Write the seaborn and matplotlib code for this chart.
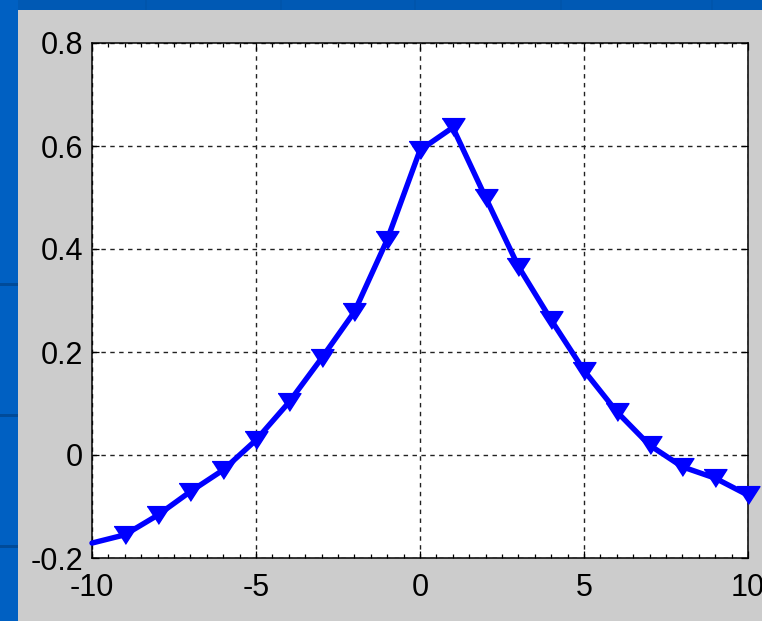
import numpy as np
import pandas as pd
import matplotlib
matplotlib.use("Agg")
import matplotlib.pyplot as plt
from matplotlib.patches import Rectangle
from matplotlib.ticker import MultipleLocator
import seaborn as sns

# ---- data ----
x_vals = [-10, -9, -8, -7, -6, -5, -4, -3, -2, -1, 0,
          1, 2, 3, 4, 5, 6, 7, 8, 9, 10]
y_vals = [-0.171, -0.155, -0.117, -0.071, -0.029, 0.029, 0.102, 0.188, 0.278, 0.418, 0.592,
          0.636, 0.500, 0.366, 0.262, 0.164, 0.084, 0.019, -0.023, -0.045, -0.078]
x_ticks = [-10, -5, 0, 5, 10]
y_ticks = [-0.2, 0, 0.2, 0.4, 0.6, 0.8]
y_tick_labels = ["-0.2", "0", "0.2", "0.4", "0.6", "0.8"]

df = pd.DataFrame({"x": x_vals, "y": y_vals})

sns.set_theme(style="white")
plt.rcParams["font.family"] = ["Liberation Sans", "DejaVu Sans"]

W, H = 762, 621
dpi = 100
fig = plt.figure(figsize=(W / dpi, H / dpi), dpi=dpi)
fig.patch.set_facecolor("#cccccc")

# slide background strips (blue) at left and top
def px_rect(x0, y0, w, h, color, z=0):
    fig.add_artist(Rectangle((x0 / W, 1 - (y0 + h) / H), w / W, h / H,
                             transform=fig.transFigure, facecolor=color,
                             edgecolor="none", zorder=z))

px_rect(0, 0, W, 10, "#0059b4")
px_rect(0, 0, 18, H, "#0060c2")
for yy in [284, 415, 546]:
    px_rect(0, yy - 1, 18, 3, "#004b99", 1)
for xx in [146, 281, 415, 561, 712]:
    px_rect(xx - 1, 0, 2, 10, "#0055ac", 1)

ax = fig.add_axes([92 / W, 1 - 558 / H, 656 / W, 515 / H])
ax.set_facecolor("white")

tri = [(-1, 0.775), (1, 0.775), (0, -0.775)]
sns.lineplot(data=df, x="x", y="y", ax=ax, color="#0000ff", linewidth=3.9,
             marker=tri, markersize=16.5, markeredgecolor="#0000ff",
             markerfacecolor="#0000ff", markeredgewidth=1.0,
             markevery=list(range(1, len(x_vals))), zorder=5)
for ln in ax.lines:
    ln.set_clip_on(False)
    ln.set_solid_joinstyle("round")

ax.set_xlim(-10, 10)
ax.set_ylim(-0.2, 0.8)
ax.set_xticks(x_ticks)
ax.set_xticklabels([str(t) for t in x_ticks])
ax.set_yticks(y_ticks)
ax.set_yticklabels(y_tick_labels)
ax.xaxis.set_minor_locator(MultipleLocator(0.5))
ax.set_xlabel("")
ax.set_ylabel("")

ax.grid(True, which="major", color="#222222", linestyle=(0, (3.2, 3.2)), linewidth=1.0)
ax.set_axisbelow(True)
for s in ax.spines.values():
    s.set_visible(True)
    s.set_color("black")
    s.set_linewidth(1.1)
    s.set_zorder(4)

ax.tick_params(axis="both", which="major", direction="in", length=5, width=0.9,
               color="black", top=True, right=True, bottom=True, left=True,
               labelsize=22, labelcolor="black")
ax.tick_params(axis="x", which="major", pad=11)
ax.tick_params(axis="y", which="major", pad=6.5)
ax.tick_params(axis="x", which="minor", direction="in", length=3, width=0.9,
               color="black", top=True, bottom=True)
ax.tick_params(axis="y", which="minor", left=False, right=False)

fig.savefig("out.png", dpi=dpi, facecolor=fig.get_facecolor())
